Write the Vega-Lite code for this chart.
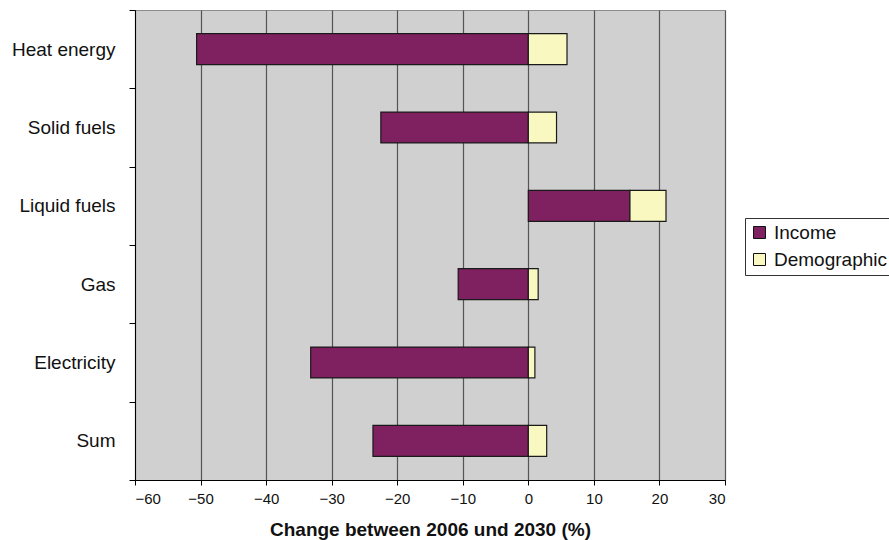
{
  "$schema": "https://vega.github.io/schema/vega-lite/v6.json",
  "width": 590,
  "height": 470,
  "autosize": {"type": "none"},
  "padding": {"left": 135, "top": 10, "right": 164, "bottom": 60},
  "background": "white",
  "config": {
    "font": "Liberation Sans",
    "view": {"fill": "#D0D0D0", "stroke": "#8c8c8c", "strokeWidth": 1}
  },
  "data": {
    "values": [
      {"category": "Heat energy", "type": "Income", "value": -50.6},
      {"category": "Heat energy", "type": "Demographic", "value": 5.9},
      {"category": "Solid fuels", "type": "Income", "value": -22.5},
      {"category": "Solid fuels", "type": "Demographic", "value": 4.3},
      {"category": "Liquid fuels", "type": "Income", "value": 15.5},
      {"category": "Liquid fuels", "type": "Demographic", "value": 5.5},
      {"category": "Gas", "type": "Income", "value": -10.7},
      {"category": "Gas", "type": "Demographic", "value": 1.5},
      {"category": "Electricity", "type": "Income", "value": -33.2},
      {"category": "Electricity", "type": "Demographic", "value": 1.0},
      {"category": "Sum", "type": "Income", "value": -23.7},
      {"category": "Sum", "type": "Demographic", "value": 2.8}
    ]
  },
  "mark": {"type": "bar", "height": {"band": 0.395}, "stroke": "#1a1a1a", "strokeWidth": 1.2},
  "encoding": {
    "y": {
      "field": "category",
      "type": "nominal",
      "sort": null,
      "scale": {"paddingInner": 0, "paddingOuter": 0},
      "axis": {
        "title": null,
        "tickBand": "extent",
        "domainColor": "black",
        "tickColor": "black",
        "tickSize": 6,
        "labelPadding": 14,
        "labelFontSize": 19,
        "labelColor": "#111",
        "grid": false
      }
    },
    "x": {
      "field": "value",
      "type": "quantitative",
      "stack": "zero",
      "scale": {"domain": [-60, 30], "nice": false, "zero": false},
      "axis": {
        "title": "Change between 2006 und 2030 (%)",
        "titleFontSize": 19,
        "titleFontWeight": "bold",
        "titleColor": "#111",
        "titlePadding": 14,
        "values": [-60, -50, -40, -30, -20, -10, 0, 10, 20, 30],
        "grid": true,
        "gridColor": "#555555",
        "gridWidth": 1.2,
        "domainColor": "black",
        "tickColor": "black",
        "tickSize": 5,
        "labelPadding": 6,
        "labelFontSize": 15,
        "labelColor": "#111"
      }
    },
    "color": {
      "field": "type",
      "type": "nominal",
      "scale": {"domain": ["Income", "Demographic"], "range": ["#7F2060", "#F8F8C0"]},
      "legend": {
        "title": null,
        "orient": "none",
        "legendX": 610,
        "legendY": 208,
        "strokeColor": "#333",
        "fillColor": "white",
        "padding": 5,
        "symbolType": "square",
        "symbolSize": 144,
        "symbolStrokeColor": "#111",
        "symbolStrokeWidth": 1,
        "labelFontSize": 19,
        "labelColor": "#111",
        "labelOffset": 5,
        "rowPadding": 7
      }
    },
    "order": {"field": "type", "sort": "descending"}
  }
}
